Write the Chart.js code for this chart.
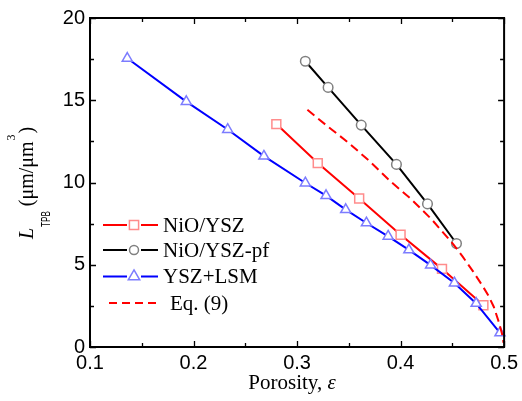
<!DOCTYPE html>
<html>
<head>
<meta charset="utf-8">
<script src="https://cdn.jsdelivr.net/npm/chart.js@4/dist/chart.umd.min.js"></script>
<style>
html,body{margin:0;padding:0;background:#fff;}
#wrap{width:522px;height:401px;position:relative;}
</style>
</head>
<body>
<div id="wrap"><canvas id="c" width="522" height="401"></canvas></div>
<script>
// ---- data ----
const nioX = [0.280, 0.320, 0.360, 0.400, 0.440, 0.480];
const nioY = [13.55, 11.18, 9.03, 6.82, 4.75, 2.54];

const pfX = [0.308, 0.330, 0.362, 0.396, 0.426, 0.454];
const pfY = [17.37, 15.78, 13.49, 11.10, 8.70, 6.29];

const lsmX = [0.136, 0.193, 0.233, 0.268, 0.308, 0.328, 0.347, 0.367, 0.388, 0.408, 0.429, 0.452, 0.473, 0.496];
const lsmY = [17.55, 14.92, 13.22, 11.60, 9.97, 9.20, 8.35, 7.54, 6.73, 5.90, 4.98, 3.89, 2.65, 0.86];

const eqX = [0.310, 0.330, 0.350, 0.370, 0.390, 0.410, 0.430, 0.450, 0.460, 0.470, 0.480, 0.485, 0.490, 0.495, 0.498, 0.4995];
const eqY = [14.42, 13.39, 12.40, 11.30, 10.08, 9.00, 7.76, 6.32, 5.49, 4.60, 3.63, 3.10, 2.45, 1.50, 0.80, 0.25];

const xTicks = [0.1, 0.2, 0.3, 0.4, 0.5];
const yTicks = [0, 5, 10, 15, 20];

const legendLabels = ['NiO/YSZ', 'NiO/YSZ-pf', 'YSZ+LSM', 'Eq. (9)'];

const pts = (xs, ys) => xs.map((x, i) => ({x: x, y: ys[i]}));

const SERIF = '"Liberation Serif", "Times New Roman", serif';
const SANS = '"Liberation Sans", Arial, sans-serif';

const styles = [
  {line: '#ff0000', mark: '#ff8c8c', shape: 'rect', r: 6.3, lr: 6.5, dash: []},
  {line: '#000000', mark: '#808080', shape: 'circle', r: 4.8, lr: 4.5, dash: []},
  {line: '#0000ff', mark: '#7c7cff', shape: 'triangle', r: 5.8, lr: 6.6, dash: []},
  {line: '#ff0000', mark: null, shape: null, r: 0, lr: 0, dash: [9, 5]}
];

function drawMarker(ctx, shape, x, y, r, color) {
  ctx.save();
  ctx.fillStyle = '#fff';
  ctx.strokeStyle = color;
  ctx.lineWidth = 1.5;
  ctx.setLineDash([]);
  ctx.beginPath();
  if (shape === 'rect') {
    const s = Math.SQRT1_2 * r;
    ctx.rect(x - s, y - s, 2 * s, 2 * s);
  } else if (shape === 'circle') {
    ctx.arc(x, y, r, 0, Math.PI * 2);
  } else if (shape === 'triangle') {
    let a = 0;
    ctx.moveTo(x + Math.sin(a) * r, y - Math.cos(a) * r);
    a += 2 * Math.PI / 3;
    ctx.lineTo(x + Math.sin(a) * r, y - Math.cos(a) * r);
    a += 2 * Math.PI / 3;
    ctx.lineTo(x + Math.sin(a) * r, y - Math.cos(a) * r);
    ctx.closePath();
  }
  ctx.fill();
  ctx.stroke();
  ctx.restore();
}

const decor = {
  id: 'decor',
  afterDraw(chart) {
    const ctx = chart.ctx;
    const a = chart.chartArea;
    const xs = chart.scales.x, ys = chart.scales.y;
    ctx.save();
    // frame
    ctx.strokeStyle = '#000';
    ctx.lineWidth = 2;
    ctx.setLineDash([]);
    ctx.strokeRect(a.left, a.top, a.right - a.left, a.bottom - a.top);
    // ticks (inward, all four sides)
    ctx.lineWidth = 1.3;
    for (let v = 0.1; v <= 0.5001; v += 0.05) {
      const px = Math.round(xs.getPixelForValue(v)) + 0.5;
      const major = Math.abs(v * 10 - Math.round(v * 10)) < 1e-6;
      const L = major ? 6 : 4;
      ctx.beginPath();
      ctx.moveTo(px, a.bottom); ctx.lineTo(px, a.bottom - L);
      ctx.moveTo(px, a.top); ctx.lineTo(px, a.top + L);
      ctx.stroke();
    }
    for (let v = 0; v <= 20.001; v += 2.5) {
      const py = Math.round(ys.getPixelForValue(v)) + 0.5;
      const major = Math.abs(v / 5 - Math.round(v / 5)) < 1e-6;
      const L = major ? 6 : 4;
      ctx.beginPath();
      ctx.moveTo(a.left, py); ctx.lineTo(a.left + L, py);
      ctx.moveTo(a.right, py); ctx.lineTo(a.right - L, py);
      ctx.stroke();
    }

    // x axis title: "Porosity, ε"
    ctx.fillStyle = '#000';
    ctx.textBaseline = 'alphabetic';
    ctx.textAlign = 'left';
    const f1 = '21px ' + SERIF, f2 = 'italic 21px ' + SERIF;
    ctx.font = f1; const w1 = ctx.measureText('Porosity, ').width;
    ctx.font = f2; const w2 = ctx.measureText('\u03b5').width;
    const cx = (a.left + a.right) / 2 - 5;
    let sx = cx - (w1 + w2) / 2;
    ctx.font = f1; ctx.fillText('Porosity, ', sx, 389);
    ctx.font = f2; ctx.fillText('\u03b5', sx + w1, 389);

    // y axis title: L_TPB (μm/μm^3), rotated, reading bottom to top
    const parts = [
      {t: 'L', f: 'italic 20px ' + SERIF, dy: 0, sx: 1},
      {t: 'TPB', f: '13px ' + SANS, dy: 17, pre: 1, sx: 0.62},
      {t: ' (\u03bcm/\u03bcm', f: '20px ' + SERIF, dy: 0, pre: 0, sx: 1},
      {t: '3', f: '12px ' + SERIF, dy: -18, pre: 1, sx: 1},
      {t: ')', f: '20px ' + SERIF, dy: 0, pre: 1, sx: 1}
    ];
    ctx.save();
    ctx.translate(33, 239);
    ctx.rotate(-Math.PI / 2);
    let px0 = 0;
    parts.forEach(p => {
      px0 += (p.pre || 0);
      ctx.font = p.f;
      const w = ctx.measureText(p.t).width * p.sx;
      ctx.save();
      ctx.translate(px0, p.dy);
      ctx.scale(p.sx, 1);
      ctx.fillText(p.t, 0, 0);
      ctx.restore();
      px0 += w;
    });
    ctx.restore();

    // legend
    const rowsY = [225, 250, 276.5, 303];
    const mx = 134;
    rowsY.forEach((yy, i) => {
      const s = styles[i];
      ctx.save();
      ctx.strokeStyle = s.line;
      ctx.lineWidth = 2;
      if (s.shape) {
        ctx.beginPath();
        ctx.moveTo(103, yy); ctx.lineTo(127, yy);
        ctx.moveTo(141, yy); ctx.lineTo(158, yy);
        ctx.stroke();
      } else {
        ctx.setLineDash([8, 5]);
        ctx.beginPath();
        ctx.moveTo(109, yy); ctx.lineTo(158, yy);
        ctx.stroke();
      }
      ctx.restore();
      if (s.shape) drawMarker(ctx, s.shape, mx, yy, s.lr, s.mark);
      ctx.fillStyle = '#000';
      ctx.font = '21px ' + SERIF;
      ctx.textBaseline = 'middle';
      ctx.fillText(legendLabels[i], i === 3 ? 170 : 163, yy + 1);
    });
    ctx.restore();
  }
};

function ds(label, xs, ys, s) {
  return {
    label: label,
    data: pts(xs, ys),
    borderColor: s.line,
    borderWidth: 2,
    borderDash: s.dash,
    showLine: true,
    tension: 0,
    fill: false,
    pointStyle: s.shape || false,
    pointRadius: s.shape ? s.r : 0,
    pointHoverRadius: s.shape ? s.r : 0,
    pointBorderColor: s.mark || s.line,
    pointBackgroundColor: '#fff',
    pointBorderWidth: 1.5,
    clip: 6
  };
}

new Chart(document.getElementById('c'), {
  type: 'scatter',
  data: {
    datasets: [
      ds(legendLabels[3], eqX, eqY, styles[3]),
      ds(legendLabels[2], lsmX, lsmY, styles[2]),
      ds(legendLabels[0], nioX, nioY, styles[0]),
      ds(legendLabels[1], pfX, pfY, styles[1])
    ]
  },
  options: {
    responsive: false,
    animation: false,
    devicePixelRatio: 1,
    layout: {padding: {left: 0, right: 15, top: 18, bottom: 0}},
    plugins: {legend: {display: false}, tooltip: {enabled: false}, title: {display: false}},
    scales: {
      x: {
        type: 'linear', min: 0.1, max: 0.5,
        afterBuildTicks: (sc) => { sc.ticks = xTicks.map(v => ({value: v})); },
        ticks: {
          callback: (v) => Number(v).toFixed(1),
          font: {family: SANS, size: 20}, color: '#000', padding: 4, maxRotation: 0
        },
        grid: {display: false, drawTicks: false},
        border: {display: false},
        afterFit: (sc) => { sc.height = 54; }
      },
      y: {
        type: 'linear', min: 0, max: 20,
        afterBuildTicks: (sc) => { sc.ticks = yTicks.map(v => ({value: v})); },
        ticks: {
          callback: (v) => String(v),
          font: {family: SANS, size: 20}, color: '#000', padding: 5
        },
        grid: {display: false, drawTicks: false},
        border: {display: false},
        afterFit: (sc) => { sc.width = 90; }
      }
    }
  },
  plugins: [decor]
});
</script>
</body>
</html>
